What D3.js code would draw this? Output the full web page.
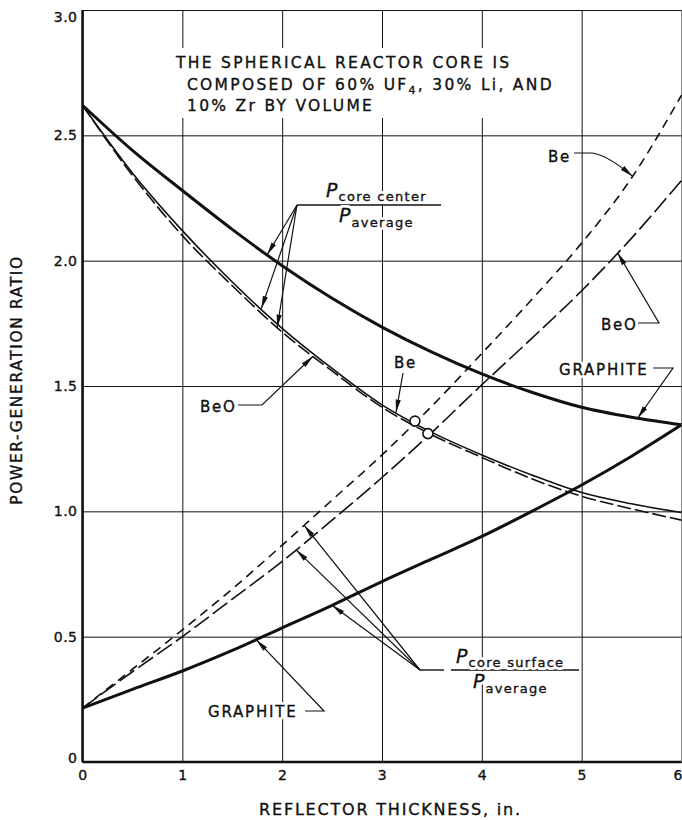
<!DOCTYPE html>
<html>
<head>
<meta charset="utf-8">
<script src="https://cdn.jsdelivr.net/npm/d3@7"></script>
<style>
  body { margin: 0; background: #fff; }
  svg text { font-family: "DejaVu Sans", sans-serif; fill: #111; stroke: #111; stroke-width: 0.35px; }
  .grid line { stroke: #111; stroke-width: 1; }
  .grid .domain { display: none; }
  .grid text { font-size: 14px; letter-spacing: 0.5px; }
  .halo { stroke: #fff !important; stroke-width: 6px !important; stroke-linejoin: round; fill: #fff !important; }
  .lead { fill: none; stroke: #111; stroke-width: 1.2; }
</style>
</head>
<body>
<div id="chart"></div>
<script>
// reflector thickness, in.
var thickness = [0, 0.5, 1, 1.5, 2, 2.5, 3, 3.5, 4, 4.5, 5, 5.5, 6];

// P core center / P average
var graphiteCenter = [2.62, 2.44, 2.28, 2.125, 1.98, 1.85, 1.735, 1.635, 1.548, 1.475, 1.415, 1.375, 1.345];
var beCenter       = [2.62, 2.35, 2.12, 1.915, 1.73, 1.57, 1.425, 1.315, 1.225, 1.145, 1.075, 1.03, 0.995];
var beoCenter      = [2.62, 2.34, 2.10, 1.90, 1.715, 1.56, 1.415, 1.305, 1.215, 1.13, 1.06, 1.01, 0.965];

// P core surface / P average
var beSurface       = [0.215, 0.37, 0.527, 0.69, 0.865, 1.045, 1.225, 1.42, 1.63, 1.845, 2.07, 2.33, 2.66];
var beoSurface      = [0.215, 0.36, 0.50, 0.65, 0.80, 0.965, 1.135, 1.315, 1.505, 1.69, 1.88, 2.09, 2.32];
var graphiteSurface = [0.215, 0.29, 0.363, 0.445, 0.535, 0.625, 0.72, 0.81, 0.90, 1.0, 1.105, 1.22, 1.345];

// crossing points marked with small circles
var crossX = [3.33, 3.46];
var crossY = [1.36, 1.31];

var xTicks = [0, 1, 2, 3, 4, 5, 6];
var xTickLabels = ["0", "1", "2", "3", "4", "5", "6"];
var yTicks = [0, 0.5, 1, 1.5, 2, 2.5, 3];
var yTickLabels = ["0", "0.5", "1.0", "1.5", "2.0", "2.5", "3.0"];

(function() {
  var margin = {top: 10, right: 0.5, bottom: 58, left: 82.5},
      width = 682 - margin.left - margin.right,
      height = 820 - margin.top - margin.bottom;

  var x = d3.scaleLinear().domain([0, 6]).range([0, width]);
  var y = d3.scaleLinear().domain([0, 3]).range([height, 0]);

  var svg = d3.select("#chart")
      .append("svg")
      .attr("width", 682)
      .attr("height", 820)
      .append("g")
      .attr("transform", "translate(" + margin.left + "," + margin.top + ")");

  svg.append("defs").append("marker")
      .attr("id", "arrow")
      .attr("viewBox", "0 -3 13 6")
      .attr("refX", 13)
      .attr("refY", 0)
      .attr("markerWidth", 13)
      .attr("markerHeight", 6)
      .attr("markerUnits", "userSpaceOnUse")
      .attr("orient", "auto")
      .append("path")
      .attr("d", "M0,-2.6L13,0L0,2.6Z")
      .attr("fill", "#111");

  // grid + tick labels
  var xAxis = d3.axisBottom(x)
      .tickValues(xTicks)
      .tickSize(-height)
      .tickPadding(8)
      .tickFormat(function(d, i) { return xTickLabels[i]; });

  svg.append("g")
      .attr("class", "grid x")
      .attr("transform", "translate(0," + height + ")")
      .call(xAxis);

  // last label sits against the right edge
  svg.selectAll(".grid.x .tick text")
      .filter(function(d) { return d === 6; })
      .attr("text-anchor", "end")
      .attr("dx", 1);

  var yAxis = d3.axisLeft(y)
      .tickValues(yTicks)
      .tickSize(-width)
      .tickPadding(5)
      .tickFormat(function(d, i) { return yTickLabels[i]; });

  svg.append("g")
      .attr("class", "grid y")
      .call(yAxis);

  svg.selectAll(".grid.y .tick text")
      .attr("dy", function(d) { return d === 3 ? "0.85em" : (d === 0 ? "0" : "0.32em"); });

  // heavy axes
  svg.append("line").attr("x1", 0).attr("x2", 0).attr("y1", 0).attr("y2", height)
      .attr("stroke", "#111").attr("stroke-width", 2.5);
  svg.append("line").attr("x1", 0).attr("x2", width).attr("y1", height).attr("y2", height)
      .attr("stroke", "#111").attr("stroke-width", 2.5);

  // note block
  svg.append("rect")
      .attr("x", 170 - margin.left).attr("y", 48 - margin.top)
      .attr("width", 392).attr("height", 70)
      .attr("fill", "#fff");

  var note = svg.append("g").attr("font-size", "15.5px").attr("letter-spacing", "2.3px");
  note.append("text").attr("x", 176 - margin.left).attr("y", 68 - margin.top)
      .text("THE SPHERICAL REACTOR CORE IS");
  var l2 = note.append("text").attr("x", 187 - margin.left).attr("y", 90 - margin.top);
  l2.append("tspan").text("COMPOSED OF 60% UF");
  l2.append("tspan").attr("dy", 4).attr("font-size", "11px").text("4");
  l2.append("tspan").attr("dy", -4).text(", 30% Li, AND");
  note.append("text").attr("x", 187 - margin.left).attr("y", 111 - margin.top)
      .text("10% Zr BY VOLUME");

  // curves
  function series(vals) {
    return thickness.map(function(t, i) { return [t, vals[i]]; });
  }

  var line = d3.line()
      .x(function(d) { return x(d[0]); })
      .y(function(d) { return y(d[1]); })
      .curve(d3.curveMonotoneX);

  var curves = [
    {vals: graphiteCenter, w: 3, dash: null},
    {vals: beCenter, w: 1.6, dash: null},
    {vals: beoCenter, w: 1.6, dash: "14,4"},
    {vals: graphiteSurface, w: 3, dash: null},
    {vals: beSurface, w: 1.6, dash: "9,6"},
    {vals: beoSurface, w: 1.6, dash: "18,5"}
  ];

  svg.selectAll(".curve")
      .data(curves)
      .enter().append("path")
      .attr("class", "curve")
      .attr("fill", "none")
      .attr("stroke", "#111")
      .attr("stroke-width", function(d) { return d.w; })
      .attr("stroke-dasharray", function(d) { return d.dash; })
      .attr("d", function(d) { return line(series(d.vals)); });

  svg.selectAll(".cross")
      .data(crossX)
      .enter().append("circle")
      .attr("class", "cross")
      .attr("cx", function(d) { return x(d); })
      .attr("cy", function(d, i) { return y(crossY[i]); })
      .attr("r", 5)
      .attr("fill", "#fff")
      .attr("stroke", "#111")
      .attr("stroke-width", 1.6);

  // value on a curve at thickness t (linear between read points)
  function at(vals, t) {
    var i = Math.min(d3.bisectRight(thickness, t) - 1, thickness.length - 2);
    var f = (t - thickness[i]) / (thickness[i + 1] - thickness[i]);
    return vals[i] + f * (vals[i + 1] - vals[i]);
  }

  function arrow(pts, t, vals) {
    var d = pts.map(function(p) { return [p[0] - margin.left, p[1] - margin.top]; });
    d.push([x(t), y(at(vals, t))]);
    svg.append("path")
        .attr("class", "lead")
        .attr("d", d3.line()(d))
        .attr("marker-end", "url(#arrow)");
  }

  // text with a white halo behind it, so grid lines break around it
  function haloText(px, py, size, spacing, build) {
    [true, false].forEach(function(isHalo) {
      var t = svg.append("text")
          .attr("x", px - margin.left).attr("y", py - margin.top)
          .attr("font-size", size + "px")
          .attr("letter-spacing", spacing + "px");
      if (isHalo) t.attr("class", "halo");
      build(t);
    });
  }

  function label(px, py, txt) {
    haloText(px, py, 15, 1.8, function(t) { t.text(txt); });
  }

  function fraction(px, py, sub) {
    return function(t) {
      t.append("tspan").attr("font-size", "19px").attr("font-style", "italic").attr("letter-spacing", "0px").text("P");
      t.append("tspan").attr("dx", 1).attr("dy", sub === "average" ? 5 : 4).text(sub);
    };
  }

  // P core center fraction
  svg.append("line").attr("x1", 297 - margin.left).attr("x2", 441 - margin.left)
      .attr("y1", 205 - margin.top).attr("y2", 205 - margin.top)
      .attr("stroke", "#111").attr("stroke-width", 1.4);
  haloText(326, 197, 13, 1.3, fraction(326, 197, "core center"));
  haloText(339, 222, 13, 1.3, fraction(339, 222, "average"));

  arrow([[297, 205]], 1.85, graphiteCenter);
  arrow([[297, 205]], 1.79, beCenter);
  arrow([[297, 205]], 1.95, beoCenter);

  // P core surface fraction
  svg.append("line").attr("x1", 420 - margin.left).attr("x2", 444 - margin.left)
      .attr("y1", 670 - margin.top).attr("y2", 670 - margin.top)
      .attr("stroke", "#111").attr("stroke-width", 1.4);
  svg.append("line").attr("x1", 451 - margin.left).attr("x2", 579 - margin.left)
      .attr("y1", 670 - margin.top).attr("y2", 670 - margin.top)
      .attr("stroke", "#111").attr("stroke-width", 1.4);
  haloText(456, 663, 13, 1.3, fraction(456, 663, "core surface"));
  haloText(473, 688, 13, 1.3, fraction(473, 688, "average"));

  arrow([[420, 670]], 2.22, beSurface);
  arrow([[420, 670]], 2.14, beoSurface);
  arrow([[420, 670]], 2.5, graphiteSurface);

  // material labels
  label(548, 162, "Be");
  svg.append("path").attr("class", "lead")
      .attr("d", "M" + (574 - margin.left) + "," + (153 - margin.top) +
                 "H" + (590 - margin.left) +
                 "Q" + (605 - margin.left) + "," + (153 - margin.top) + " " +
                 x(5.51) + "," + y(at(beSurface, 5.51)))
      .attr("marker-end", "url(#arrow)");

  label(601, 330, "BeO");
  arrow([[638, 323], [659, 323]], 5.36, beoSurface);

  label(559, 375, "GRAPHITE");
  arrow([[653, 368], [673, 368]], 5.56, graphiteCenter);

  label(394, 368, "Be");
  arrow([[403, 373]], 3.14, beCenter);

  label(200, 412, "BeO");
  arrow([[238, 405], [262, 405]], 2.31, beoCenter);

  label(208, 717, "GRAPHITE");
  arrow([[305, 711], [324, 711]], 1.74, graphiteSurface);

  // axis titles
  svg.append("text")
      .attr("x", (258 + 523) / 2 - margin.left)
      .attr("y", 815 - margin.top)
      .attr("text-anchor", "middle")
      .attr("font-size", "16px")
      .attr("letter-spacing", "1.8px")
      .text("REFLECTOR THICKNESS, in.");

  svg.append("text")
      .attr("transform", "translate(" + (22 - margin.left) + "," + (380 - margin.top) + ") rotate(-90)")
      .attr("text-anchor", "middle")
      .attr("font-size", "15.5px")
      .attr("letter-spacing", "1.6px")
      .text("POWER-GENERATION RATIO");
})();
</script>
</body>
</html>
